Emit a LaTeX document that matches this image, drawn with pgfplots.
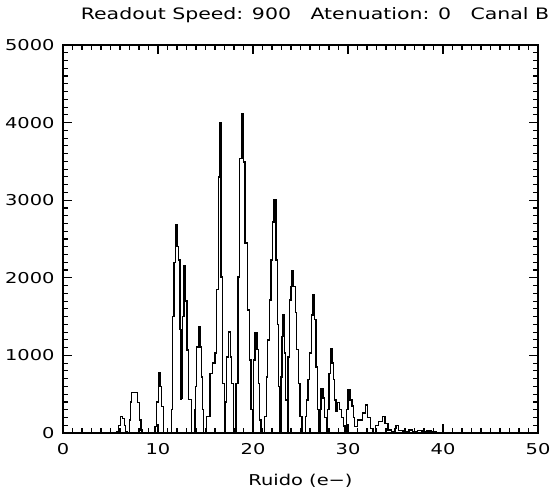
\documentclass[border=0pt]{standalone}
\usepackage{fontspec}
\setmainfont{DejaVu Sans}
\newfontfamily\idl{DejaVu Sans}[FakeStretch=1.3]
\usepackage{pgfplots}
\pgfplotsset{compat=1.18}
\begin{document}
\begin{tikzpicture}[x=1bp,y=1bp]
\useasboundingbox (0,0) rectangle (556,489);
\begin{axis}[
  at={(63bp,56bp)}, anchor=south west,
  scale only axis, width=475bp, height=388bp,
  xmin=0, xmax=50, ymin=0, ymax=5000,
  xtick={0,10,20,30,40,50}, ytick={0,1000,2000,3000,4000,5000},
  minor x tick num=9, minor y tick num=9,
  tick align=inside, ticks=both,
  major tick length=9bp, minor tick length=5bp,
  xtick pos=both, ytick pos=both,
  xticklabel pos=lower, yticklabel pos=left,
  axis line style={line width=1.3bp},
  every tick/.style={black, line width=1.1bp},
  /pgf/number format/assume math mode=true,
  /pgf/number format/1000 sep={},
  tick label style={font=\idl\fontsize{15}{15}\selectfont},
  xticklabel style={yshift=-7bp},
  yticklabel style={xshift=-5bp},
  xlabel={Ruido (e−)},
  xlabel style={font=\idl\fontsize{15}{15}\selectfont, yshift=-12bp},
  clip=true,
]
\addplot[const plot, black, line width=1.4bp] coordinates {
(0,0) (5.65,20) (5.85,100) (6.05,210) (6.25,190) (6.45,100) (6.6,20) (6.75,0)
(6.98,170) (7.1,400) (7.23,520) (7.82,390) (8.03,170) (8.2,40) (8.3,0)
(9.68,80) (9.86,400) (10.03,780) (10.2,600) (10.39,340) (10.56,0)
(11.45,300) (11.55,1500) (11.68,2200) (11.82,2680) (12.0,2400) (12.14,2230) (12.3,1330) (12.4,430) (12.5,450)
(12.6,1500) (12.75,2150) (12.92,1700) (13.05,1070) (13.2,430) (13.5,0)
(13.9,300) (13.97,600) (14.07,1110) (14.25,1370) (14.4,1110) (14.55,720) (14.67,300) (14.77,0)
(15.12,210) (15.47,770) (15.72,900) (16.0,1030) (16.18,1850) (16.35,3300) (16.47,4000) (16.62,2010) (16.8,640) (17.0,0)
(17.1,400) (17.2,980) (17.4,1300) (17.6,980) (17.75,640) (17.95,0)
(18.2,640) (18.4,2010) (18.6,3540) (18.85,4120) (19.0,3490) (19.15,2450) (19.4,1585) (19.6,940) (19.8,300) (19.95,0)
(20.05,940) (20.2,1290) (20.4,1074) (20.55,640) (20.7,170) (20.85,0)
(21.2,210) (21.4,720) (21.55,1200) (21.75,1714) (21.9,2230) (22.05,2720) (22.2,3000) (22.4,2230) (22.55,1400) (22.7,600) (22.85,0)
(22.95,720) (23.05,1240) (23.15,1520) (23.3,1030) (23.45,425) (23.6,0)
(23.7,980) (23.85,1714) (24.0,1885) (24.12,2090) (24.25,1885) (24.45,1550) (24.6,1074) (24.8,640) (24.95,210) (25.15,0)
(25.55,210) (25.65,425) (25.8,690) (25.95,1030) (26.15,1520) (26.3,1780) (26.45,1460) (26.65,850) (26.8,300) (26.95,0)
(27.05,300) (27.15,570) (27.35,450) (27.55,200) (27.75,0)
(27.86,300) (28.0,770) (28.15,1090) (28.3,900) (28.45,690) (28.6,425) (28.75,280) (28.9,395) (29.1,300) (29.3,200) (29.5,90) (29.7,0)
(29.85,300) (30.0,555) (30.2,425) (30.4,350) (30.55,200) (30.7,80) (31.0,170) (31.5,260) (31.85,360) (32.05,200) (32.35,60) (32.65,0)
(32.9,100) (33.2,150) (33.6,210) (33.9,120) (34.2,40) (34.6,20) (34.9,60) (35.05,100) (35.3,30) (35.8,20)
(36.4,40) (36.8,15) (37.3,30) (37.8,15) (38.3,25) (38.8,20) (39.3,0) (50,0)
};
\end{axis}
\node[anchor=base, font=\idl\fontsize{15.8}{15.8}\selectfont] at (315,469) {Readout Speed: 900\ \ \ Atenuation: 0\ \ \ Canal B};
\end{tikzpicture}
\end{document}
